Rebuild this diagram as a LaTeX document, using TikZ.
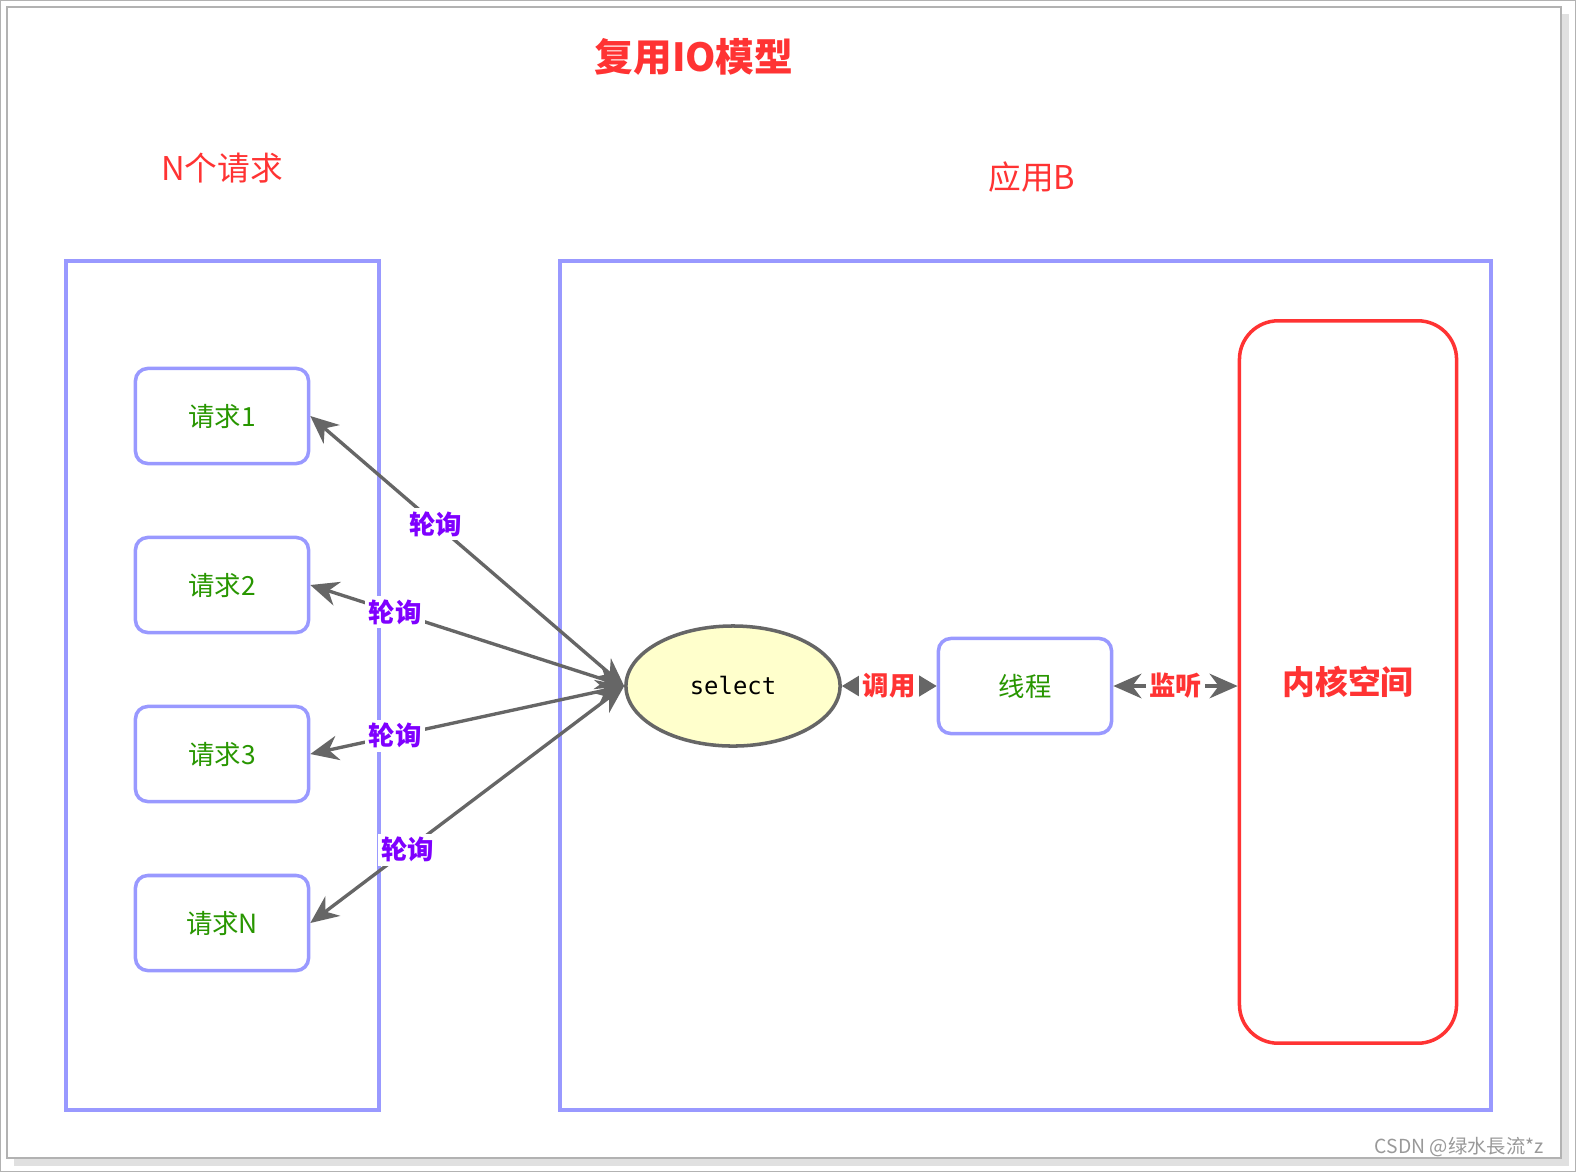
\documentclass[tikz,border=0pt]{standalone}
\usepackage{fontspec}
\setmainfont{Noto Sans CJK SC}
\setmonofont{DejaVu Sans Mono}
\usetikzlibrary{arrows.meta,shapes.geometric,positioning}
\definecolor{qblue}{RGB}{153,153,255}
\definecolor{qred}{RGB}{255,51,51}
\definecolor{qgreen}{RGB}{40,150,0}
\definecolor{qpurple}{RGB}{127,0,255}
\definecolor{qgray}{RGB}{102,102,102}
\definecolor{qyellow}{RGB}{255,255,204}

\begin{document}
\begin{tikzpicture}[
  x=0.01cm,y=-0.01cm,
  font=\fontsize{7.5}{9}\selectfont,
  ttlbox/.style={text=qred,font=\fontsize{11}{13}\selectfont\bfseries},
  subttl/.style={text=qred,font=\fontsize{9.3}{11}\selectfont},
  contbox/.style={draw=qblue,line width=1pt},
  req/.style={draw=qblue,line width=1pt,rounded corners=3.5pt,fill=white,
              minimum width=1.73cm,minimum height=0.95cm,text=qgreen},
  selnode/.style={ellipse,draw=qgray,fill=qyellow,line width=1pt,inner sep=0pt,
              minimum width=2.14cm,minimum height=1.2cm,
              font=\ttfamily\fontsize{6.8}{8}\selectfont},
  kernbox/.style={draw=qred,line width=1pt,rounded corners=11pt,
               minimum width=2.17cm,minimum height=7.22cm,text=qred,
               font=\fontsize{9.3}{12}\selectfont\bfseries},
  poll/.style={{Stealth[length=8pt,width=7pt]}-{Stealth[length=8pt,width=7pt]},
               line width=0.95pt,draw=qgray},
  polllbl/.style={fill=white,inner sep=1pt,text=qpurple,
                  font=\fontsize{7.5}{9}\selectfont\bfseries},
  duo/.style={line width=0.95pt,draw=qgray},
  duolbl/.style={fill=white,inner sep=1pt,text=qred,
                 font=\fontsize{7.5}{9}\selectfont\bfseries}
]
  \useasboundingbox (0,0) rectangle (1576,1172);

  % page frame
  \draw[black!30,line width=0.3pt] (0.5,0.5) rectangle (1575.5,1171.5);
  \fill[black!12] (14,14) rectangle (1569,1166);
  \filldraw[fill=white,draw=black!30,line width=0.4pt] (7,7) rectangle (1561,1158);

  % titles
  \node[ttlbox] (ttl) at (694,57) {复用IO模型};
  \node[subttl] (capl) at (222,168) {N个请求};
  \node[subttl] (capr) at (1032,177) {应用B};

  % containers
  \draw[contbox] (66,261) rectangle (379,1110);
  \draw[contbox] (560,261) rectangle (1491,1110);

  % requests
  \node[req] (r1) at (222,416) {请求1};
  \node[req] (r2) at (222,585) {请求2};
  \node[req] (r3) at (222,754) {请求3};
  \node[req] (rn) at (222,923) {请求N};

  % application side
  \node[selnode] (sel) at (733,686) {select};
  \node[req] (thr) at (1025,686) {线程};
  \node[kernbox] (kern) at (1348,682) {内核空间};

  % polling
  \draw[poll] (sel.west) -- node[polllbl,pos=0.6] {轮询} (r1.east);
  \draw[poll] (sel.west) -- node[polllbl,pos=0.73] {轮询} (r2.east);
  \draw[poll] (sel.west) -- node[polllbl,pos=0.73] {轮询} (r3.east);
  \draw[poll] (sel.west) -- node[polllbl,pos=0.69] {轮询} (rn.east);

  % call / listen
  \draw[duo,{Triangle[length=6pt,width=7pt]}-{Triangle[length=6pt,width=7pt]}]
    (sel.east) -- node[duolbl] {调用} (thr.west);
  \draw[duo,{Stealth[length=8pt,width=7pt]}-{Stealth[length=8pt,width=7pt]}]
    (thr.east) -- node[duolbl] {监听} (kern.west|-thr);

  % watermark
  \node[text=black!40,font=\fontsize{5.5}{6}\selectfont,anchor=east] (wm)
    at (1556,1147) {CSDN @绿水長流*z};
\end{tikzpicture}
\end{document}
